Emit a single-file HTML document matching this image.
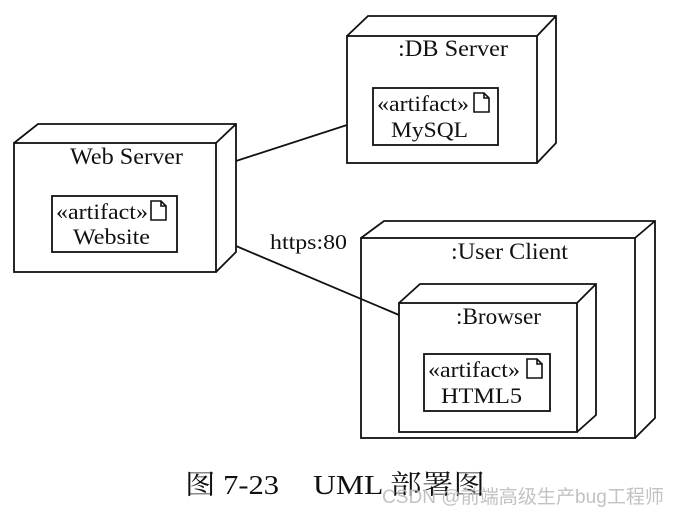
<!DOCTYPE html>
<html><head><meta charset="utf-8"><style>
body{margin:0;background:#fff;width:680px;height:518px;overflow:hidden}
svg{display:block}
</style></head><body>
<svg width="680" height="518" viewBox="0 0 680 518" xmlns="http://www.w3.org/2000/svg">
<defs>
<g id="doc"><path d="M0 0 H10 L15 5 V19 H0 Z M10 0 V5 H15" fill="none" stroke="#111" stroke-width="1.6"/></g>
</defs>
<g fill="none" stroke="#111" stroke-width="1.8" stroke-linejoin="miter">
<rect x="14" y="143" width="202" height="129"/>
<path d="M14 143 L38 124 H236 V252 L216 272 M216 143 L236 124"/>
<rect x="347" y="36" width="190" height="127"/>
<path d="M347 36 L368 16 H556 V143 L537 163 M537 36 L556 16"/>
<rect x="361" y="238" width="274" height="200"/>
<path d="M361 238 L384 221 H655 V418 L635 438 M635 238 L655 221"/>
<rect x="399" y="303" width="178" height="129"/>
<path d="M399 303 L420 284 H596 V415 L577 432 M577 303 L596 284"/>
<rect x="52" y="196" width="125" height="56"/>
<rect x="373" y="88" width="125" height="57"/>
<rect x="424" y="354" width="126" height="57"/>
<line x1="236" y1="161" x2="347" y2="125"/>
<line x1="236" y1="246" x2="399" y2="315"/>
</g>
<use href="#doc" x="151" y="201"/>
<use href="#doc" x="474" y="93"/>
<use href="#doc" x="527" y="359"/>
<g font-family="Liberation Serif, serif" fill="#111" font-size="23">
<text x="70" y="164" textLength="113" lengthAdjust="spacingAndGlyphs">Web Server</text>
<text x="398" y="56" textLength="110" lengthAdjust="spacingAndGlyphs">:DB Server</text>
<text x="451" y="259" textLength="117" lengthAdjust="spacingAndGlyphs">:User Client</text>
<text x="456" y="324" textLength="85" lengthAdjust="spacingAndGlyphs">:Browser</text>
<text x="270" y="249" font-size="21" textLength="77" lengthAdjust="spacingAndGlyphs">https:80</text>
<g font-size="22">
<text x="56" y="219" textLength="92" lengthAdjust="spacingAndGlyphs">«artifact»</text>
<text x="73" y="244" textLength="77" lengthAdjust="spacingAndGlyphs">Website</text>
<text x="377" y="111" textLength="92" lengthAdjust="spacingAndGlyphs">«artifact»</text>
<text x="391" y="137" textLength="77" lengthAdjust="spacingAndGlyphs">MySQL</text>
<text x="428" y="377" textLength="92" lengthAdjust="spacingAndGlyphs">«artifact»</text>
<text x="441" y="403" textLength="81" lengthAdjust="spacingAndGlyphs">HTML5</text>
</g>
</g>
<g font-family="Liberation Serif, 'Noto Serif CJK SC', serif" font-size="27" fill="#111">
<text x="185" y="494" textLength="94" lengthAdjust="spacingAndGlyphs">图 7-23</text>
<text x="313" y="494" textLength="172" lengthAdjust="spacingAndGlyphs">UML 部署图</text>
</g>
<text x="382" y="503" font-family="Liberation Sans, 'Noto Sans CJK SC', sans-serif" font-size="19" fill="#bbb" fill-opacity="0.9" textLength="282" lengthAdjust="spacingAndGlyphs">CSDN @前端高级生产bug工程师</text>
</svg>
</body></html>
